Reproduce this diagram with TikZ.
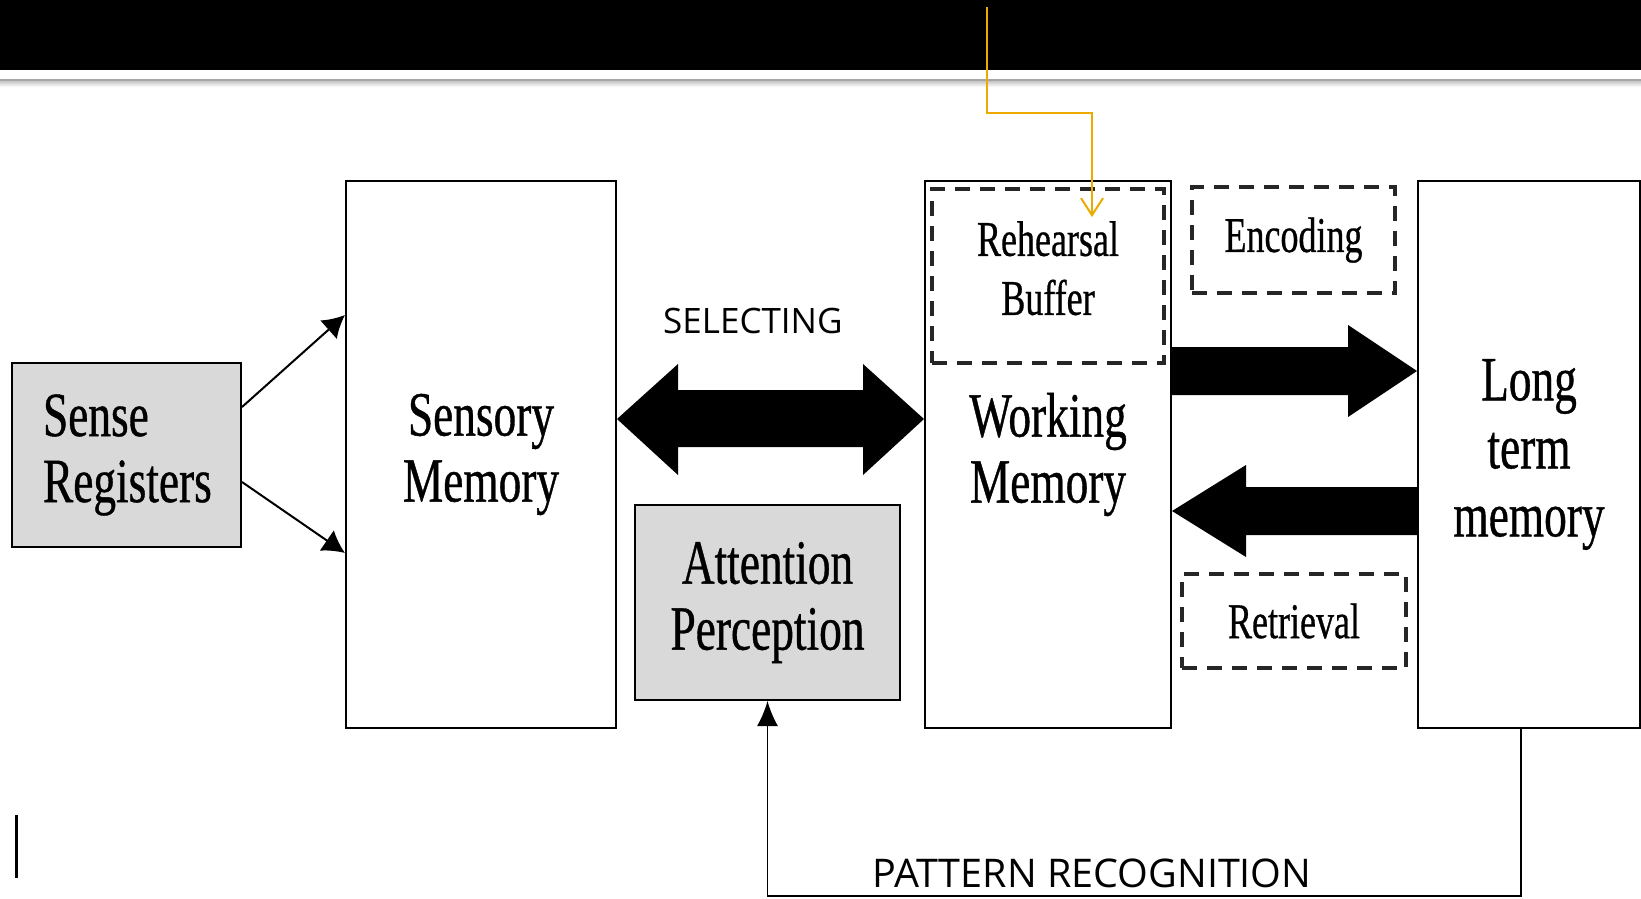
\documentclass[tikz,border=0pt]{standalone}
\usepackage{fontspec}
\usetikzlibrary{arrows.meta,calc}
\newfontfamily\tnrfont[FakeStretch=0.72,FakeBold=0.6]{Liberation Serif}
\newfontfamily\opensansfont{Open Sans}
\definecolor{boxgray}{RGB}{217,217,217}
\definecolor{barorange}{RGB}{235,170,0}
\tikzset{
  box/.style={draw=black, line width=2pt, inner sep=0pt, align=center,
    font=\tnrfont\fontsize{63}{66}\selectfont},
  dbox/.style={draw=black!85, line width=4pt, dash pattern=on 15pt off 10pt, inner sep=0pt, align=center,
    font=\tnrfont\fontsize{50}{59}\selectfont},
  blockarrow/.style={fill=black, draw=none},
  lbl/.style={font=\opensansfont, inner sep=0pt, anchor=base west},
  thin arrow/.style={line width=2pt, -{Latex[length=22pt,width=25pt]}},
}
\begin{document}
\begin{tikzpicture}[x=1pt,y=-1pt]
\useasboundingbox (0,0) rectangle (1641,898);
% header bar
\fill[black] (0,0) rectangle (1641,70);
\fill[gray!70] (0,79) rectangle (1641,81);
\shade[top color=gray!45, bottom color=white] (0,81) rectangle (1641,87);

% boxes
\node[box, fill=boxgray, minimum width=229pt, minimum height=184pt, text width=167pt, align=left, inner xsep=31pt] (sr) at (126.5,455) {Sense\\Registers};
\node[box, minimum width=270pt, minimum height=547pt] (sm) at (481,454.5) {Sensory\\Memory};
\node[box, fill=boxgray, minimum width=265pt, minimum height=195pt] (ap) at (767.5,602.5) {Attention\\Perception};
\node[box, minimum width=246pt, minimum height=547pt] (wm) at (1048,454.5) {Working\\Memory};
\node[box, minimum width=222pt, minimum height=547pt, font=\tnrfont\fontsize{63}{68}\selectfont] (ltm) at (1529,454.5) {Long\\term\\memory};
\node[dbox, minimum width=232pt, minimum height=174pt] (rb) at (1048,276) {Rehearsal\\Buffer\rule[-16pt]{0pt}{16pt}};
\node[dbox, minimum width=203pt, minimum height=106pt] (enc) at (1293.5,240) {Encoding};
\node[dbox, minimum width=224pt, minimum height=94pt] (ret) at (1294,621) {Retrieval};

% sense register arrows
\draw[thin arrow] (sr.east |- 0,407) -- (sm.west |- 0,315);
\draw[thin arrow] (sr.east |- 0,482) -- (sm.west |- 0,553);

% selecting double arrow
\fill[blockarrow] (sm.east |- 0,419) -- (678,364) -- (678,390) -- (863,390) -- (863,364) -- (wm.west |- 0,419)
  -- (863,475) -- (863,447) -- (678,447) -- (678,475) -- cycle;
\node[lbl, font=\opensansfont\fontsize{35}{40}\selectfont] (sel) at (663,333) {SELECTING};

% encoding arrow
\fill[blockarrow] (wm.east |- 0,347) -- (1348,347) -- (1348,325) -- (ltm.west |- 0,371) -- (1348,417) -- (1348,395) -- (wm.east |- 0,395) -- cycle;
% retrieval arrow
\fill[blockarrow] (ltm.west |- 0,487) -- (1246,487) -- (1246,465) -- (wm.east |- 0,511) -- (1246,557) -- (1246,535) -- (ltm.west |- 0,535) -- cycle;

% pattern recognition
\coordinate (pr1) at (1521,896);
\coordinate (pr2) at (767.5,896);
\draw[line width=1.5pt, -{Latex[length=25pt,width=21pt]}] (ltm.south -| pr1) -- (pr1) -- (pr2) -- (ap.south);
\node[lbl, font=\opensansfont\fontsize{39.5}{44}\selectfont] (pat) at (872,887) {PATTERN RECOGNITION};

% orange connector
\coordinate (o1) at (987,7);
\coordinate (o2) at (1092,217);
\draw[barorange, line width=2pt, -{Straight Barb[length=17pt,width=22pt]}] (o1) |- (1092,113) -- (o2);

% cursor mark
\fill[black] (14.5,815) rectangle (17.5,878);
\end{tikzpicture}
\end{document}
